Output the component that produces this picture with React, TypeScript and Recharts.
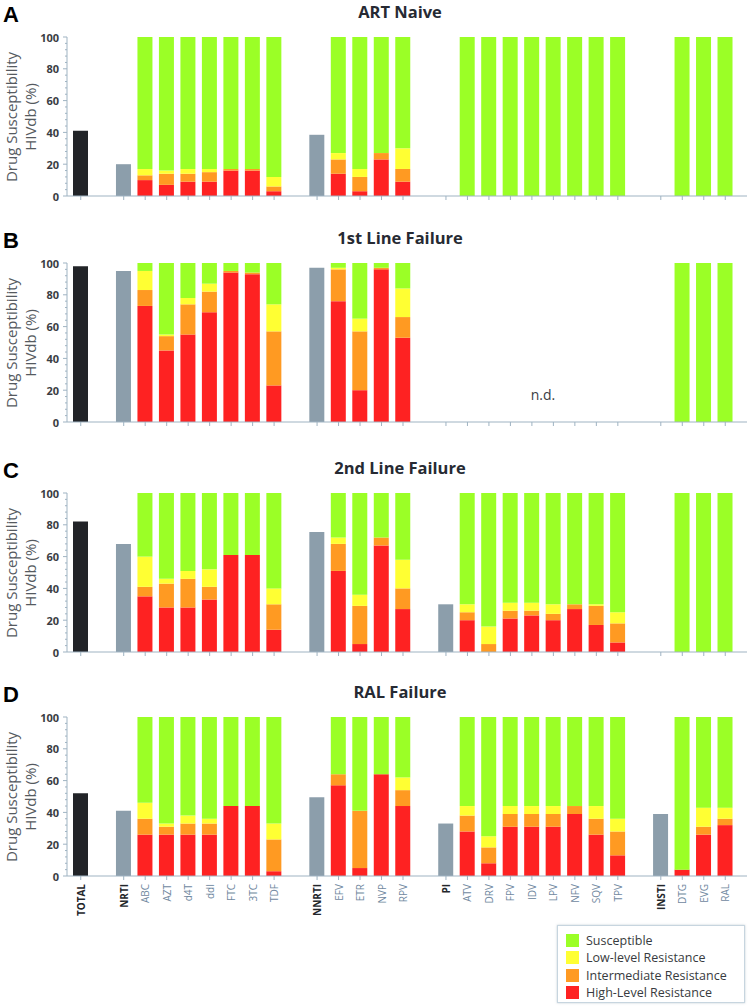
import { BarChart, Bar, XAxis, YAxis, Cell } from 'recharts'

const categories = [
  'TOTAL', '', 'NRTI', 'ABC', 'AZT', 'd4T', 'ddI', 'FTC', '3TC', 'TDF', '',
  'NNRTI', 'EFV', 'ETR', 'NVP', 'RPV', '',
  'PI', 'ATV', 'DRV', 'FPV', 'IDV', 'LPV', 'NFV', 'SQV', 'TPV', '',
  'INSTI', 'DTG', 'EVG', 'RAL'
]
const classNames = ['TOTAL', 'NRTI', 'NNRTI', 'PI', 'INSTI']
const drugs = ['ABC', 'AZT', 'd4T', 'ddI', 'FTC', '3TC', 'TDF', 'EFV', 'ETR', 'NVP', 'RPV',
  'ATV', 'DRV', 'FPV', 'IDV', 'LPV', 'NFV', 'SQV', 'TPV', 'DTG', 'EVG', 'RAL']
const yTicks = [0, 4, 8, 12, 16, 20, 24, 28, 32, 36, 40, 44, 48, 52, 56, 60, 64, 68, 72, 76, 80, 84, 88, 92, 96, 100]
const legendItems = ['Susceptible', 'Low-level Resistance', 'Intermediate Resistance', 'High-Level Resistance']

// A: ART Naive
const naiveSummary = [41, 20, 38.5, 0, 0]
const naiveHigh = [10, 7, 9, 9, 16, 16, 3, 14, 3, 23, 9, 0, 0, 0, 0, 0, 0, 0, 0, 0, 0, 0]
const naiveInter = [3, 7, 5, 6, 1, 1, 3, 9, 9, 4, 8, 0, 0, 0, 0, 0, 0, 0, 0, 0, 0, 0]
const naiveLow = [4, 2, 3, 2, 0, 0, 6, 4, 5, 0, 13, 0, 0, 0, 0, 0, 0, 0, 0, 0, 0, 0]
const naiveSusc = [83, 84, 83, 83, 83, 83, 88, 73, 83, 73, 70, 100, 100, 100, 100, 100, 100, 100, 100, 100, 100, 100]

// B: 1st Line Failure
const firstSummary = [98, 95, 97, 0, 0]
const firstHigh = [73, 45, 55, 69, 94, 93, 23, 76, 20, 96, 53, 0, 0, 0, 0, 0, 0, 0, 0, 0, 0, 0]
const firstInter = [10, 9, 19, 13, 1, 1, 34, 20, 37, 1, 13, 0, 0, 0, 0, 0, 0, 0, 0, 0, 0, 0]
const firstLow = [12, 1, 4, 5, 0, 0, 17, 1, 8, 0, 18, 0, 0, 0, 0, 0, 0, 0, 0, 0, 0, 0]
const firstSusc = [5, 45, 22, 13, 5, 6, 26, 3, 35, 3, 16, 0, 0, 0, 0, 0, 0, 0, 0, 100, 100, 100]

// C: 2nd Line Failure
const secondSummary = [82, 68, 75.5, 30, 0]
const secondHigh = [35, 28, 28, 33, 61, 61, 14, 51, 5, 67, 27, 20, 0, 21, 23, 20, 27, 17, 6, 0, 0, 0]
const secondInter = [6, 15, 18, 8, 0, 0, 16, 17, 24, 5, 13, 5, 5, 5, 3, 4, 3, 12, 12, 0, 0, 0]
const secondLow = [19, 3, 5, 11, 0, 0, 10, 4, 7, 0, 18, 5, 11, 5, 5, 6, 0, 1, 7, 0, 0, 0]
const secondSusc = [40, 54, 49, 48, 39, 39, 60, 28, 64, 28, 42, 70, 84, 69, 69, 70, 70, 70, 75, 100, 100, 100]

// D: RAL Failure
const ralSummary = [52, 41, 49.5, 33, 39]
const ralHigh = [26, 26, 26, 26, 44, 44, 3, 57, 5, 64, 44, 28, 8, 31, 31, 31, 39, 26, 13, 4, 26, 32]
const ralInter = [10, 5, 7, 7, 0, 0, 20, 7, 36, 0, 10, 10, 10, 8, 8, 8, 5, 10, 15, 0, 5, 4]
const ralLow = [10, 2, 5, 3, 0, 0, 10, 0, 0, 0, 8, 6, 7, 5, 5, 5, 0, 8, 8, 0, 12, 7]
const ralSusc = [54, 67, 62, 64, 56, 56, 67, 36, 59, 36, 38, 56, 75, 56, 56, 56, 56, 56, 64, 96, 57, 57]

const GREEN = '#9bff26'
const YELLOW = '#ffff33'
const ORANGE = '#ff9a22'
const RED = '#fe2222'
const BLACK = '#222428'
const GRAY = '#8c9eab'
const AXIS = '#9fb3c2'
const FONT = '"Open Sans", "DejaVu Sans", sans-serif'
const legendColors = [GREEN, YELLOW, ORANGE, RED]

const buildRows = (summary: number[], high: number[], inter: number[], low: number[], susc: number[]) =>
  categories.map((name, i) => {
    const row: any = { key: name || `gap${i}`, name, single: 0, high: 0, inter: 0, low: 0, susc: 0 }
    const ci = classNames.indexOf(name)
    const di = drugs.indexOf(name)
    if (ci >= 0) row.single = summary[ci]
    if (di >= 0) {
      row.high = high[di]
      row.inter = inter[di]
      row.low = low[di]
      row.susc = susc[di]
    }
    return row
  })

const panels = [
  { letter: 'A', title: 'ART Naive', plotTop: 37, rows: buildRows(naiveSummary, naiveHigh, naiveInter, naiveLow, naiveSusc) },
  { letter: 'B', title: '1st Line Failure', plotTop: 263, rows: buildRows(firstSummary, firstHigh, firstInter, firstLow, firstSusc) },
  { letter: 'C', title: '2nd Line Failure', plotTop: 493, rows: buildRows(secondSummary, secondHigh, secondInter, secondLow, secondSusc) },
  { letter: 'D', title: 'RAL Failure', plotTop: 717, rows: buildRows(ralSummary, ralHigh, ralInter, ralLow, ralSusc) }
]

const YTick = (props: any) => {
  const { x, y, payload } = props
  const major = payload.value % 20 === 0
  const ax = x + 8
  return (
    <g>
      <line x1={ax - (major ? 4 : 2)} x2={ax} y1={y} y2={y} stroke={AXIS} strokeWidth={1} />
      {major && (
        <text x={x} y={y} textAnchor="end" dominantBaseline="central" fontSize={11} fontWeight={700}
          fontFamily={FONT} fill="#3a3d44">{payload.value}</text>
      )}
    </g>
  )
}

const XTick = (props: any) => {
  const { x, y, payload, showLabel } = props
  const name = String(payload.value)
  if (name.startsWith('gap')) return null
  const isClass = classNames.includes(name)
  return (
    <g>
      <line x1={x} x2={x} y1={y - 8} y2={y - 4} stroke={AXIS} strokeWidth={1} />
      {showLabel && (
        <text x={x} y={y} transform={`rotate(-90 ${x} ${y})`} textAnchor="end" dominantBaseline="central"
          fontSize={10} fontWeight={isClass ? 700 : 400} fontFamily={FONT}
          fill={isClass ? '#23262b' : '#7088a0'}>{name}</text>
      )}
    </g>
  )
}

const Panel = ({ panel, last }: { panel: any; last: boolean }) => {
  const xh = last ? 45 : 12
  const top = panel.plotTop - 30
  const cy = panel.plotTop + 79.5
  return (
    <>
      <div style={{ position: 'absolute', left: 0, top }}>
        <BarChart width={750} height={30 + 159 + xh} data={panel.rows} barSize={15}
          margin={{ top: 30, right: 3, left: 7, bottom: 0 }}>
          <XAxis dataKey="key" interval={0} axisLine={{ stroke: AXIS }} tickLine={false}
            padding={{ left: 3, right: 11 }} height={xh}
            tick={(p: any) => <XTick {...p} showLabel={last} />} />
          <YAxis domain={[0, 100]} ticks={yTicks} interval={0} width={60} axisLine={{ stroke: AXIS }}
            tickLine={false} tick={(p: any) => <YTick {...p} />} />
          <Bar dataKey="single" stackId="s" isAnimationActive={false}>
            {panel.rows.map((r: any, i: number) => (
              <Cell key={i} fill={r.name === 'TOTAL' ? BLACK : GRAY} />
            ))}
          </Bar>
          <Bar dataKey="high" stackId="s" fill={RED} isAnimationActive={false} />
          <Bar dataKey="inter" stackId="s" fill={ORANGE} isAnimationActive={false} />
          <Bar dataKey="low" stackId="s" fill={YELLOW} isAnimationActive={false} />
          <Bar dataKey="susc" stackId="s" fill={GREEN} isAnimationActive={false} />
        </BarChart>
      </div>
      <div style={{ position: 'absolute', left: 300, width: 200, top: panel.plotTop - 35, textAlign: 'center',
        fontFamily: FONT, fontWeight: 700, fontSize: 16.5, lineHeight: '20px', color: '#262a33' }}>{panel.title}</div>
      <div style={{ position: 'absolute', left: 3, top: panel.plotTop - 33, fontFamily: '"Liberation Sans", Arial, sans-serif',
        fontWeight: 700, fontSize: 22, lineHeight: '22px', color: '#000' }}>{panel.letter}</div>
      <div style={{ position: 'absolute', left: 11 - 100, top: cy - 10, width: 200, height: 20, lineHeight: '20px',
        textAlign: 'center', transform: 'rotate(-90deg)', fontFamily: FONT, fontSize: 15, color: '#555a60' }}>
        Drug Susceptibility
      </div>
      <div style={{ position: 'absolute', left: 30 - 100, top: cy - 10, width: 200, height: 20, lineHeight: '20px',
        textAlign: 'center', transform: 'rotate(-90deg)', fontFamily: FONT, fontSize: 15, color: '#555a60' }}>
        HIVdb (%)
      </div>
    </>
  )
}

const App = () => {
  return (
    <div style={{ position: 'absolute', left: 0, top: 0, width: 750, height: 1008, background: '#fff', overflow: 'hidden' }}>
      {panels.map((p, i) => (
        <Panel key={p.letter} panel={p} last={i === panels.length - 1} />
      ))}
      <div style={{ position: 'absolute', left: 503, top: 386, width: 80, textAlign: 'center', fontFamily: FONT,
        fontSize: 14, lineHeight: '18px', color: '#3a3d44' }}>n.d.</div>
      <div style={{ position: 'absolute', left: 557, top: 925, width: 186, height: 76, border: '1px solid #c7d5df',
        boxShadow: '0 0 2px rgba(150,170,185,0.6)', background: '#fff', boxSizing: 'content-box' }}>
        {legendItems.map((label, i) => (
          <div key={label} style={{ position: 'absolute', left: 8, top: 7 + i * 17.3, height: 15, display: 'flex',
            alignItems: 'center' }}>
            <div style={{ width: 13, height: 13, background: legendColors[i], marginRight: 7 }} />
            <span style={{ fontFamily: FONT, fontSize: 12.5, color: '#383b40', whiteSpace: 'nowrap' }}>{label}</span>
          </div>
        ))}
      </div>
    </div>
  )
}

export default App
